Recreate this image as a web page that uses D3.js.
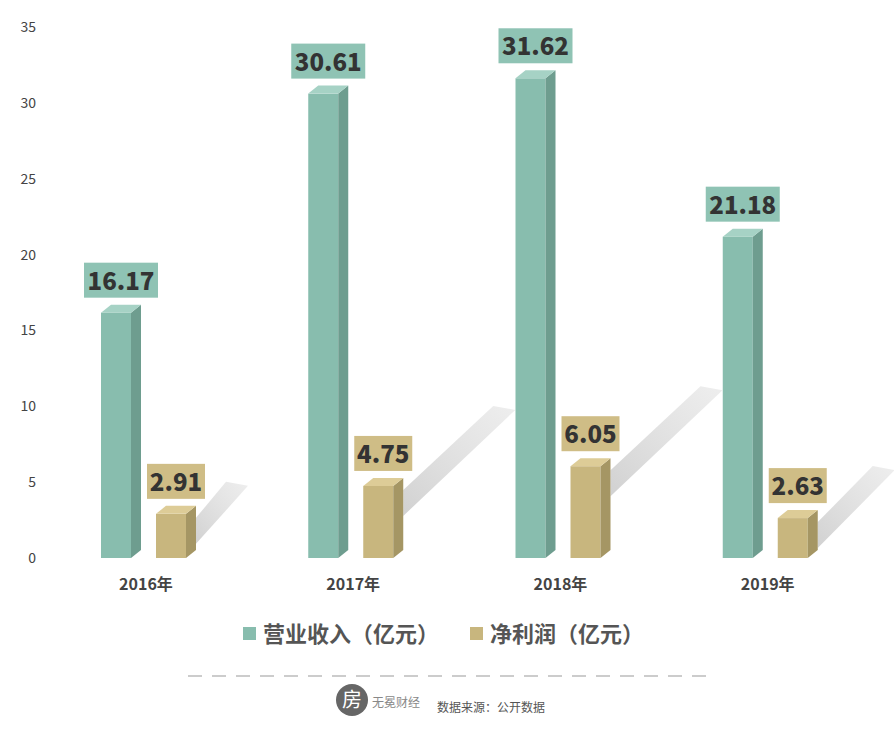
<!DOCTYPE html><html><head><meta charset="utf-8"><script src="https://cdn.jsdelivr.net/npm/d3@7"></script>
<style>body{margin:0;background:#fff}text{font-family:"Noto Sans CJK SC","Noto Sans",sans-serif}</style></head><body>
<svg id="c" width="894" height="735"></svg>
<script>
const years=["2016年","2017年","2018年","2019年"];
const revenue=[16.17,30.61,31.62,21.18];
const profit=[2.91,4.75,6.05,2.63];
const ticks=[0,5,10,15,20,25,30,35];
const seriesNames=["营业收入（亿元）","净利润（亿元）"];
const svg=d3.select("#c");
const defs=svg.append("defs");
const g=defs.append("linearGradient").attr("id","sh").attr("x1",0).attr("y1",1).attr("x2",1).attr("y2",0);
g.append("stop").attr("offset",0).attr("stop-color","#ccc").attr("stop-opacity",0.9);
g.append("stop").attr("offset",1).attr("stop-color","#ddd").attr("stop-opacity",0.5);
const y=d3.scaleLinear().domain([0,35]).range([558,27]);
const x=d3.scaleBand().domain(years).range([43,872]).padding(0);
const off=[58,113],bw=30,dx=10,dy=8;
const cols=[{f:"#88bdae",s:"#6e9d8f",t:"#a6d2c5",l:"#8fc3b4"},{f:"#c8b67e",s:"#a59664",t:"#ddcc97",l:"#cfbd86"}];
svg.selectAll(".tk").data(ticks).join("text").attr("x",36).attr("y",d=>y(d)+5).attr("text-anchor","end").attr("font-size",14).attr("fill","#444").text(d=>d);
[revenue,profit].forEach((arr,si)=>{
 const c=cols[si];
 arr.forEach((v,i)=>{
  const x0=x(years[i])+off[si],y0=y(v),yb=y(0);
  if(si==1){const sx=x0+bw+dx, L=i==0?30:(i==3?55:90);
   svg.append("polygon").attr("points",`${sx},${y0+4} ${sx+L},${y0-dy-L*0.8} ${sx+L+22},${y0-dy-L*0.8+4} ${sx},${y0+30}`).attr("fill","url(#sh)");}
  svg.append("rect").attr("x",x0).attr("y",y0).attr("width",bw).attr("height",yb-y0).attr("fill",c.f);
  svg.append("polygon").attr("points",`${x0+bw},${y0} ${x0+bw+dx},${y0-dy} ${x0+bw+dx},${yb-dy} ${x0+bw},${yb}`).attr("fill",c.s);
  svg.append("polygon").attr("points",`${x0},${y0} ${x0+dx},${y0-dy} ${x0+bw+dx},${y0-dy} ${x0+bw},${y0}`).attr("fill",c.t);
  const cx=x0+(bw+dx)/2, w=si?58:74, h=35;
  svg.append("rect").attr("x",cx-w/2).attr("y",y0-dy-h-7).attr("width",w).attr("height",h).attr("fill",c.l);
  svg.append("text").attr("x",cx).attr("y",y0-dy-15).attr("text-anchor","middle").attr("font-size",24).attr("font-weight",900).attr("fill","#333").text(v.toFixed(2));
 });
});
svg.selectAll(".xl").data(years).join("text").attr("x",d=>x(d)+off[0]+45).attr("y",590).attr("text-anchor","middle").attr("font-size",16).attr("font-weight","bold").attr("fill","#444").text(d=>d);
const lg=[{x:243,t:seriesNames[0]},{x:470,t:seriesNames[1]}];
lg.forEach((d,i)=>{svg.append("rect").attr("x",d.x).attr("y",627).attr("width",13).attr("height",13).attr("fill",cols[i].f);
 svg.append("text").attr("x",d.x+20).attr("y",642).attr("font-size",22).attr("font-weight","bold").attr("fill","#555").text(d.t);});
svg.append("line").attr("x1",188).attr("x2",712).attr("y1",676).attr("y2",676).attr("stroke","#999").attr("stroke-dasharray","14,10");
svg.append("circle").attr("cx",352).attr("cy",700).attr("r",16).attr("fill","#666");
svg.append("text").attr("x",352).attr("y",707).attr("text-anchor","middle").attr("font-size",20).attr("fill","#fff").text("房");
svg.append("text").attr("x",372).attr("y",707).attr("font-size",12).attr("fill","#888").text("无冕财经");
svg.append("text").attr("x",437).attr("y",712).attr("font-size",12).attr("fill","#555").text("数据来源：公开数据");
</script></body></html>
